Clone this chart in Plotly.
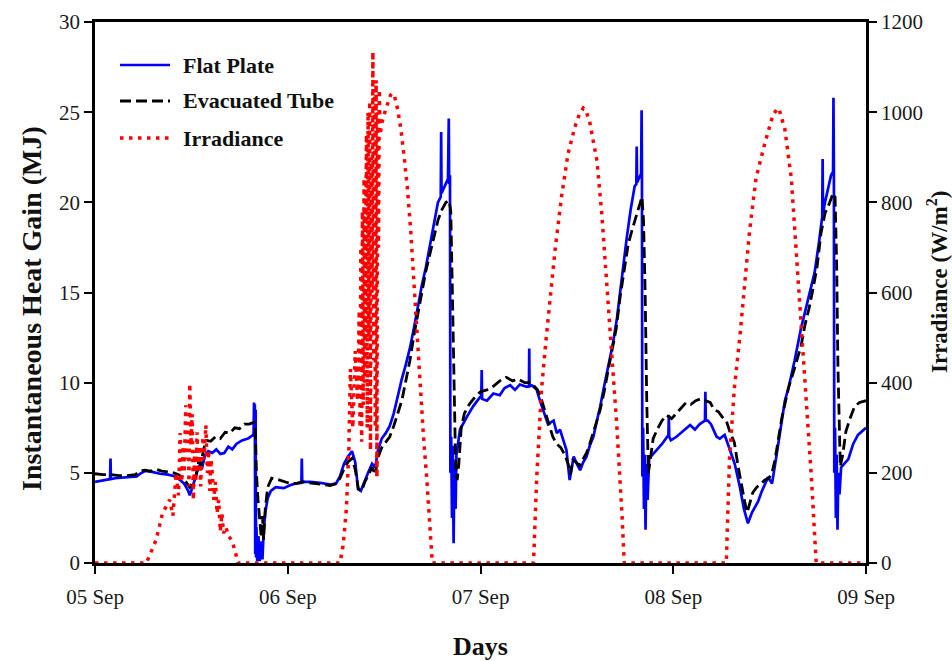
import plotly.graph_objects as go
import pandas as pd

# ---------------- data (hours after 05 Sep 00:00, value) ----------------
flat_plate = [
    (0, 4.5), (0.6, 4.55), (1.25, 4.6), (1.87, 4.65), (1.93, 5.8), (1.98, 4.65), (2.5, 4.7), (3.7, 4.75),
    (5.2, 4.8), (5.6, 4.95), (6.2, 5.1), (7.1, 5.05), (8.1, 4.95), (9.1, 4.9), (10.0, 4.8), (10.6, 4.6),
    (11.1, 4.4), (11.6, 4.0), (11.8, 3.75), (12.2, 4.3), (12.6, 4.9), (12.95, 5.4), (13.3, 5.2), (13.7, 6.0),
    (14.1, 6.2), (14.6, 6.1), (15.1, 6.3), (15.6, 6.05), (16.1, 6.1), (16.6, 6.45), (17.1, 6.3), (17.6, 6.6),
    (18.3, 6.8), (19.05, 6.9), (19.7, 7.1), (19.75, 7.2), (19.8, 8.9), (19.85, 7.0), (19.9, 8.8), (19.95, 0.5),
    (20.0, 8.5), (20.05, 0.3), (20.1, 2.0), (20.2, 0.1), (20.35, 1.5), (20.5, 0.1), (20.7, 1.2), (20.85, 0.2),
    (21.0, 1.8), (21.2, 2.8), (21.5, 3.6), (21.9, 4.0), (22.5, 4.2), (23.5, 4.15), (24.2, 4.3),
    (24.9, 4.4), (25.7, 4.45), (25.75, 5.8), (25.8, 4.5), (26.8, 4.5), (28, 4.45), (29.3, 4.35), (30, 4.4),
    (30.5, 4.8), (31, 5.5), (31.5, 5.9), (32, 6.2), (32.4, 5.6), (32.75, 4.1), (33.1, 4.0), (33.5, 4.5),
    (34, 5.0), (34.5, 5.5), (34.9, 5.3), (35.2, 6.2), (35.7, 6.9), (36.2, 7.2), (36.7, 7.6), (37.2, 8.3),
    (37.7, 9.3), (38.2, 10.2), (38.7, 11.0), (39.2, 11.9), (39.7, 13.0), (40.2, 14.3), (40.7, 15.4),
    (41.2, 16.4), (41.7, 17.6), (42.2, 19.0), (42.7, 20.0), (43.05, 20.3), (43.1, 23.9), (43.15, 20.5),
    (43.6, 21.0), (43.95, 21.3), (44.05, 24.65), (44.1, 21.0), (44.2, 21.5), (44.25, 5.0), (44.35, 7.0),
    (44.45, 2.5), (44.55, 6.5), (44.65, 1.1), (44.75, 5.5), (44.9, 3.0), (45.0, 6.0), (45.45, 7.4),
    (46.3, 8.1), (47.1, 8.7), (47.94, 9.2),
    (48.1, 9.2), (48.15, 10.7), (48.2, 9.1), (48.8, 9.0), (49.6, 9.4), (50.4, 9.3), (51, 9.7), (51.7, 9.86),
    (52.3, 9.6), (52.9, 9.9), (53.75, 9.77), (54.03, 9.8), (54.07, 11.9), (54.11, 9.8), (54.4, 9.85),
    (55, 9.6), (55.4, 9.0), (55.8, 8.5), (56.4, 7.7), (57.1, 7.9), (57.5, 7.2), (57.9, 7.4), (58.3, 6.8),
    (58.7, 6.26), (59.1, 4.6), (59.6, 5.9), (60, 5.5), (60.4, 5.15), (60.8, 5.6), (61.2, 5.9), (61.6, 6.5),
    (62.05, 7.0), (62.5, 7.9), (62.9, 8.66), (63.3, 9.6), (63.7, 10.5), (64.1, 11.3), (64.5, 12.2),
    (65, 13.6), (65.6, 15.9), (66.2, 18.0), (66.7, 19.6), (67.2, 20.9), (67.4, 21.0), (67.45, 23.1),
    (67.5, 21.1), (67.7, 21.3), (68.0, 21.6), (68.06, 25.1), (68.1, 21.8), (68.15, 4.8), (68.25, 7.5),
    (68.35, 3.0), (68.45, 6.0), (68.55, 1.85), (68.65, 5.5), (68.8, 3.5), (69.0, 5.8), (69.7, 6.15),
    (70.6, 6.6), (71.4, 7.1), (71.45, 8.2), (71.5, 7.0), (71.7, 6.8),
    (72.4, 7.0), (73.2, 7.3), (74.1, 7.65), (74.7, 7.4), (75.3, 7.7), (75.95, 7.9), (76.0, 9.5),
    (76.05, 7.9), (76.3, 7.9), (76.7, 7.7), (77.4, 7.0), (77.8, 6.9), (78.4, 7.1), (78.8, 6.6),
    (79.65, 5.5), (80.3, 4.2), (80.8, 3.0), (81.3, 2.2), (81.8, 2.8), (82.55, 3.4), (83.05, 4.0),
    (83.8, 4.76), (84.3, 4.4), (84.8, 5.8), (85.45, 7.7), (85.9, 9.0), (86.4, 9.8), (87.1, 11.2),
    (87.9, 13.0), (88.8, 14.6), (89.6, 16.1), (90.15, 17.8), (90.45, 19.0), (90.55, 19.2), (90.6, 22.4),
    (90.65, 19.4), (90.9, 20.0), (91.3, 20.9), (91.65, 21.5), (91.9, 21.7), (91.95, 25.8), (92.0, 21.8),
    (92.05, 5.0), (92.15, 7.5), (92.25, 2.5), (92.35, 6.0), (92.45, 1.85), (92.55, 5.0), (92.7, 3.8),
    (92.9, 5.3), (93.8, 5.76), (94.4, 6.6), (95.0, 7.1), (96, 7.5),
]

evacuated_tube = [
    (0, 4.95), (1, 4.9), (2, 4.9), (3, 4.85), (4, 4.85), (5, 4.9), (5.6, 5.1), (6.2, 5.15), (7, 5.1),
    (7.6, 5.2), (8.3, 5.1), (9, 5.05), (9.8, 5.0), (10.4, 4.9), (10.9, 4.75), (11.4, 4.45), (11.8, 4.2),
    (12.2, 4.5), (12.6, 4.9), (12.9, 5.6), (13.2, 5.4), (13.5, 6.3), (13.9, 6.8), (14.4, 6.75), (15, 7.0),
    (15.6, 6.9), (16.2, 7.25), (16.8, 7.2), (17.4, 7.5), (18, 7.45), (18.6, 7.7), (19.2, 7.7), (19.8, 7.8),
    (19.95, 7.6), (20.1, 5.0), (20.3, 3.5), (20.5, 2.5), (20.7, 1.4), (20.85, 2.6), (21.0, 1.3), (21.2, 3.0),
    (21.5, 4.2), (22, 4.7), (23, 4.6), (24, 4.45),
    (25, 4.4), (25.8, 4.5), (26.8, 4.45), (28, 4.35), (29.3, 4.3), (30, 4.4), (30.5, 4.7), (31, 5.2),
    (31.5, 5.6), (32, 5.8), (32.4, 5.2), (32.8, 4.1), (33.2, 4.0), (33.6, 4.5), (34, 4.9), (34.5, 5.3),
    (34.9, 4.9), (35.2, 5.8), (35.7, 6.4), (36.2, 6.7), (36.7, 7.0), (37.2, 7.6), (37.7, 8.3), (38.2, 9.0),
    (38.7, 10.1), (39.2, 11.2), (39.7, 12.6), (40.2, 13.9), (40.7, 15.0), (41.2, 16.2), (41.7, 17.1),
    (42.2, 18.1), (42.7, 19.0), (43.2, 19.6), (43.7, 20.0), (44.1, 20.1), (44.3, 19.5), (44.5, 15.0),
    (44.7, 9.0), (44.9, 5.5), (45.1, 4.6), (45.3, 5.5), (45.6, 7.5), (46, 8.3), (46.6, 8.8), (47.3, 9.2),
    (48, 9.5),
    (48.8, 9.6), (49.6, 9.8), (50.4, 10.1), (51.2, 10.3), (52, 10.1), (52.7, 10.2), (53.5, 10.0),
    (54.3, 10.0), (55.1, 9.6), (55.5, 9.2), (56, 8.5), (56.5, 7.7), (57, 7.0), (57.5, 6.6), (58, 6.4),
    (58.5, 6.0), (58.9, 5.5), (59.2, 4.9), (59.5, 5.7), (59.9, 5.6), (60.3, 5.4), (60.7, 5.7), (61.2, 6.1),
    (61.6, 6.6), (62.05, 7.2), (62.5, 7.9), (62.9, 8.5), (63.4, 9.5), (63.9, 10.7), (64.4, 11.8),
    (64.9, 13.0), (65.4, 14.8), (65.9, 16.4), (66.4, 17.7), (66.9, 18.5), (67.4, 19.2), (67.9, 19.9),
    (68.1, 20.3), (68.3, 19.0), (68.5, 15.0), (68.7, 9.0), (68.9, 5.0), (69.1, 5.6), (69.5, 6.9),
    (70, 7.4), (70.6, 7.9), (71.2, 8.2), (71.8, 8.0),
    (72.4, 8.3), (73, 8.6), (73.6, 8.9), (74.2, 8.8), (74.8, 9.0), (75.4, 9.1), (76, 9.0), (76.6, 8.9),
    (77.1, 8.5), (77.6, 8.4), (78.1, 8.1), (78.6, 7.9), (79.1, 7.2), (79.6, 6.7), (80.1, 5.3), (80.5, 4.3),
    (80.9, 3.4), (81.2, 2.8), (81.5, 3.3), (81.9, 3.9), (82.4, 4.2), (82.9, 4.4), (83.4, 4.6), (83.9, 4.7),
    (84.3, 5.0), (84.7, 5.8), (85.1, 7.0), (85.5, 8.0), (85.9, 8.8), (86.4, 9.8), (86.9, 10.5),
    (87.4, 11.2), (87.9, 12.0), (88.4, 13.2), (88.9, 14.1), (89.4, 15.2), (89.9, 16.4), (90.4, 18.3),
    (90.9, 19.4), (91.4, 19.9), (91.9, 20.5), (92.15, 20.3), (92.35, 16.5), (92.5, 11.0), (92.65, 7.0),
    (92.8, 5.35), (93.1, 6.0), (93.5, 7.3), (94, 8.0), (94.6, 8.7), (95.2, 8.9), (96, 9.0),
]

irradiance = [
    (0, 0), (3, 0), (6.4, 0), (7.6, 51), (8.4, 110), (9.3, 140), (9.7, 105), (10.1, 200), (10.4, 150),
    (10.6, 288), (10.8, 180), (11.0, 260), (11.1, 200), (11.3, 350), (11.45, 230), (11.6, 310),
    (11.7, 170), (11.8, 398), (11.95, 260), (12.1, 330), (12.25, 140), (12.4, 250), (12.55, 180),
    (12.7, 290), (12.85, 200), (13.0, 260), (13.15, 170), (13.3, 240), (13.45, 280), (13.6, 230),
    (13.8, 306), (14.0, 200), (14.15, 250), (14.3, 160), (14.45, 230), (14.6, 200), (14.8, 140),
    (15.0, 180), (15.2, 110), (15.4, 140), (15.6, 70), (15.8, 110), (16.0, 66), (16.3, 80), (16.6, 60),
    (17.0, 51), (17.4, 30), (17.8, 0), (24, 0),
    (30.5, 0), (30.9, 40), (31.3, 120), (31.6, 250), (31.8, 430), (32.1, 300), (32.4, 470), (32.7, 360),
    (32.9, 560), (33.0, 300), (33.1, 700), (33.2, 269), (33.3, 780),
    (33.4, 350), (33.5, 853), (33.6, 400), (33.7, 700), (33.8, 950), (33.9, 300), (34.0, 1000),
    (34.1, 500), (34.2, 1024), (34.3, 250), (34.4, 900), (34.5, 600), (34.6, 1134), (34.7, 450),
    (34.8, 1050), (34.9, 300), (35.0, 1071), (35.1, 190), (35.2, 1000), (35.3, 700), (35.4, 1050),
    (35.5, 950), (35.7, 975), (36, 995), (36.4, 1020), (36.8, 1038), (37.0, 1042), (37.3, 1035),
    (37.7, 1005), (38.1, 960), (38.5, 900), (38.9, 830), (39.3, 740), (39.7, 620), (40.1, 500),
    (40.5, 388), (40.9, 280), (41.3, 190), (41.7, 80), (42.0, 0), (48, 0),
    (54.6, 0), (55.0, 190), (55.6, 386), (56.2, 503), (56.8, 619), (57.3, 697), (58.1, 814), (58.9, 908),
    (59.8, 970), (60.3, 995), (60.8, 1009), (61.1, 1005), (61.6, 978), (62.5, 892), (63.1, 775),
    (63.7, 619), (64.3, 463), (64.96, 308), (65.6, 113), (65.9, 0), (72, 0),
    (78.6, 0), (79.0, 230), (79.6, 386), (80.3, 503), (80.9, 619), (81.5, 736), (82.3, 853), (83.4, 931),
    (84.4, 993), (85.0, 1009), (85.2, 1005), (85.9, 962), (86.7, 853), (87.3, 697), (87.9, 541),
    (88.5, 386), (89.2, 190), (89.8, 0), (96, 0),
]

series_names = ["Flat Plate", "Evacuated Tube", "Irradiance"]
series_colors = ["#0000ff", "#000000", "#ff0000"]
series_dash = ["solid", "11px,5px", "3.5px,5.5px"]
series_widths = [2.7, 2.8, 3.5]
day_labels = ["05 Sep", "06 Sep", "07 Sep", "08 Sep", "09 Sep"]
left_title = "Instantaneous Heat Gain (MJ)"
right_title = "Irradiance (W/m<sup>2</sup>)"
x_title = "Days"
start = pd.Timestamp("2017-09-05")


def to_xy(points):
    xs = [start + pd.Timedelta(hours=h) for h, _ in points]
    ys = [v for _, v in points]
    return xs, ys


SERIF = "Liberation Serif"
W, H = 952, 661
ML, MR, MT, MB = 95, 86, 22, 98
PW, PH = W - ML - MR, H - MT - MB


def px_x(px):
    return (px - ML) / PW


def px_y(py):
    return (H - MB - py) / PH


fig = go.Figure()
for pts, name, col, dash, wd, yax in zip(
        [flat_plate, evacuated_tube, irradiance], series_names, series_colors,
        series_dash, series_widths, ["y", "y", "y2"]):
    x, y = to_xy(pts)
    fig.add_trace(go.Scatter(x=x, y=y, mode="lines", name=name, yaxis=yax, showlegend=False,
                             line=dict(color=col, width=wd, dash=dash)))

# manual legend (long line samples like the reference)
legend_rows_px = [65, 101, 138]
shapes, annos = [], []
for name, col, dash, wd, ypx in zip(series_names, series_colors, series_dash, series_widths, legend_rows_px):
    yp = px_y(ypx)
    shapes.append(dict(type="line", xref="paper", yref="paper",
                       x0=px_x(120), x1=px_x(170), y0=yp, y1=yp,
                       line=dict(color=col, width=wd, dash=dash)))
    annos.append(dict(xref="paper", yref="paper", x=px_x(181), y=yp,
                      xanchor="left", yanchor="middle", showarrow=False,
                      text="<b>%s</b>" % name,
                      font=dict(family=SERIF, size=22, color="#111111")))

# axis titles placed as in the reference
annos.append(dict(xref="paper", yref="paper", x=px_x(31), y=px_y(309), textangle=-90,
                  xanchor="center", yanchor="middle", showarrow=False,
                  text="<b>%s</b>" % left_title,
                  font=dict(family=SERIF, size=28, color="#111111")))
annos.append(dict(xref="paper", yref="paper", x=px_x(937), y=px_y(282), textangle=-90,
                  xanchor="center", yanchor="middle", showarrow=False,
                  text="<b>%s</b>" % right_title,
                  font=dict(family=SERIF, size=23, color="#111111")))

tick_dates = [start + pd.Timedelta(days=i) for i in range(5)]

fig.update_layout(
    width=W, height=H,
    margin=dict(l=ML, r=MR, t=MT, b=MB, autoexpand=False),
    paper_bgcolor="white", plot_bgcolor="white",
    font=dict(family=SERIF, color="#1a1a1a", size=21),
    showlegend=False,
    shapes=shapes, annotations=annos,
    xaxis=dict(
        type="date", range=[tick_dates[0], tick_dates[-1]],
        tickvals=tick_dates, ticktext=day_labels, automargin=False,
        showline=True, linecolor="black", linewidth=2.5, mirror=True,
        ticks="outside", ticklen=8, tickwidth=2, tickcolor="black", ticklabelstandoff=5,
        showgrid=False, zeroline=False, layer="below traces",
        tickfont=dict(family=SERIF, size=21, color="#1a1a1a"),
        title=dict(text="<b>%s</b>" % x_title, font=dict(family=SERIF, size=26, color="#111111"), standoff=36),
    ),
    yaxis=dict(
        range=[0, 30], tickvals=[0, 5, 10, 15, 20, 25, 30], automargin=False,
        showline=True, linecolor="black", linewidth=2.5,
        ticks="outside", ticklen=8, tickwidth=2, tickcolor="black",
        showgrid=False, zeroline=False,
        tickfont=dict(family=SERIF, size=21, color="#1a1a1a"),
    ),
    yaxis2=dict(
        range=[0, 1200], tickvals=[0, 200, 400, 600, 800, 1000, 1200],
        overlaying="y", side="right", automargin=False,
        showline=True, linecolor="black", linewidth=2.5,
        ticks="outside", ticklen=8, tickwidth=2, tickcolor="black",
        showgrid=False, zeroline=False,
        tickfont=dict(family=SERIF, size=21, color="#1a1a1a"),
    ),
)

fig.write_html("out.html")
